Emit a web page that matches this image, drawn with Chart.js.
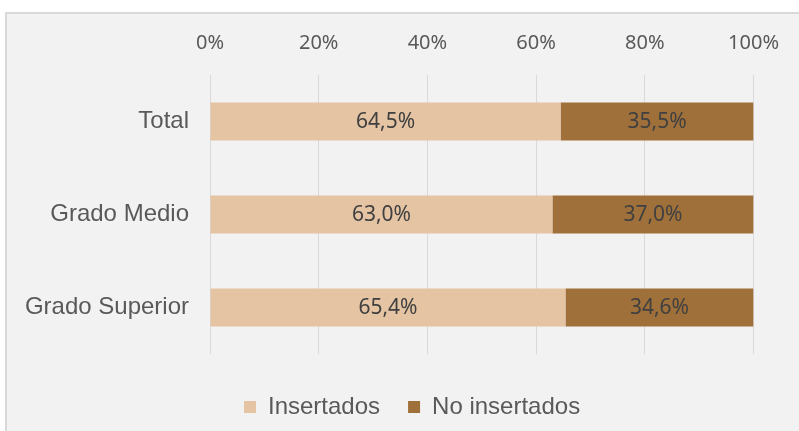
<!DOCTYPE html>
<html>
<head>
<meta charset="utf-8">
<script src="https://cdn.jsdelivr.net/npm/chart.js@4.4.1/dist/chart.umd.min.js"></script>
<style>
  html, body { margin: 0; padding: 0; background: #fff; }
  #wrap { width: 799px; height: 431px; }
</style>
</head>
<body>
<div id="wrap"><canvas id="chart" width="799" height="431"></canvas></div>
<script>
// data
const categories = ['Total', 'Grado Medio', 'Grado Superior'];
const insertados = [64.5, 63.0, 65.4];
const noInsertados = [35.5, 37.0, 34.6];
const seriesNames = ['Insertados', 'No insertados'];
const xTicks = [0, 20, 40, 60, 80, 100];

// grey panel with border behind the chart
const panelBg = {
    id: 'panelBg',
    beforeDraw(chart) {
        const ctx = chart.ctx;
        ctx.save();
        ctx.fillStyle = '#ffffff';
        ctx.fillRect(0, 0, chart.width, chart.height);
        ctx.fillStyle = '#f2f2f2';
        ctx.fillRect(6, 13, chart.width, chart.height);
        ctx.strokeStyle = '#d9d9d9';
        ctx.lineWidth = 2;
        ctx.strokeRect(6, 13, chart.width + 10, chart.height + 10);
        ctx.restore();
    }
};

// legend sits a bit right of the centre in the original
const legendShift = {
    id: 'legendShift',
    afterLayout(chart) {
        chart.legend.left = 216;
    }
};

// value labels in the middle of every segment
const barLabels = {
    id: 'barLabels',
    afterDatasetsDraw(chart) {
        const ctx = chart.ctx;
        ctx.save();
        ctx.font = '21px "Noto Sans"';
        ctx.fillStyle = '#404040';
        ctx.textAlign = 'center';
        ctx.textBaseline = 'middle';
        chart.data.datasets.forEach((ds, i) => {
            chart.getDatasetMeta(i).data.forEach((bar, j) => {
                const p = bar.getCenterPoint();
                ctx.fillText(ds.data[j].toFixed(1).replace('.', ',') + '%', p.x, p.y + 1);
            });
        });
        ctx.restore();
    }
};

new Chart(document.getElementById('chart').getContext('2d'), {
    type: 'bar',
    data: {
        labels: categories,
        datasets: [
            { label: seriesNames[0], data: insertados, backgroundColor: '#e5c4a3' },
            { label: seriesNames[1], data: noInsertados, backgroundColor: '#a0703a' }
        ]
    },
    options: {
        indexAxis: 'y',
        responsive: false,
        animation: false,
        layout: { padding: { left: 0, top: 14, right: 45, bottom: 2 } },
        datasets: { bar: { barPercentage: 0.41, categoryPercentage: 1 } },
        scales: {
            x: {
                position: 'top',
                stacked: true,
                min: 0,
                max: 100,
                afterBuildTicks: s => { s.ticks = xTicks.map(v => ({ value: v })); },
                afterFit: s => { s.height = 61; },
                ticks: {
                    padding: 20,
                    color: '#595959',
                    font: { family: 'Noto Sans', size: 20 },
                    callback: v => v + '%'
                },
                grid: { color: '#d9d9d9', drawTicks: false },
                border: { display: false }
            },
            y: {
                stacked: true,
                afterFit: s => { s.width = 210; },
                ticks: {
                    padding: 13,
                    color: '#595959',
                    font: { family: 'Liberation Sans', size: 24 }
                },
                grid: { display: false },
                border: { display: false }
            }
        },
        plugins: {
            tooltip: { enabled: false },
            legend: {
                position: 'bottom',
                align: 'start',
                title: { display: true, text: '', font: { size: 5, lineHeight: 1 }, padding: { top: 0, bottom: 8 } },
                labels: {
                    boxWidth: 12,
                    boxHeight: 12,
                    padding: 28,
                    color: '#595959',
                    font: { family: 'Liberation Sans', size: 24 }
                }
            }
        }
    },
    plugins: [panelBg, legendShift, barLabels]
});
</script>
</body>
</html>
